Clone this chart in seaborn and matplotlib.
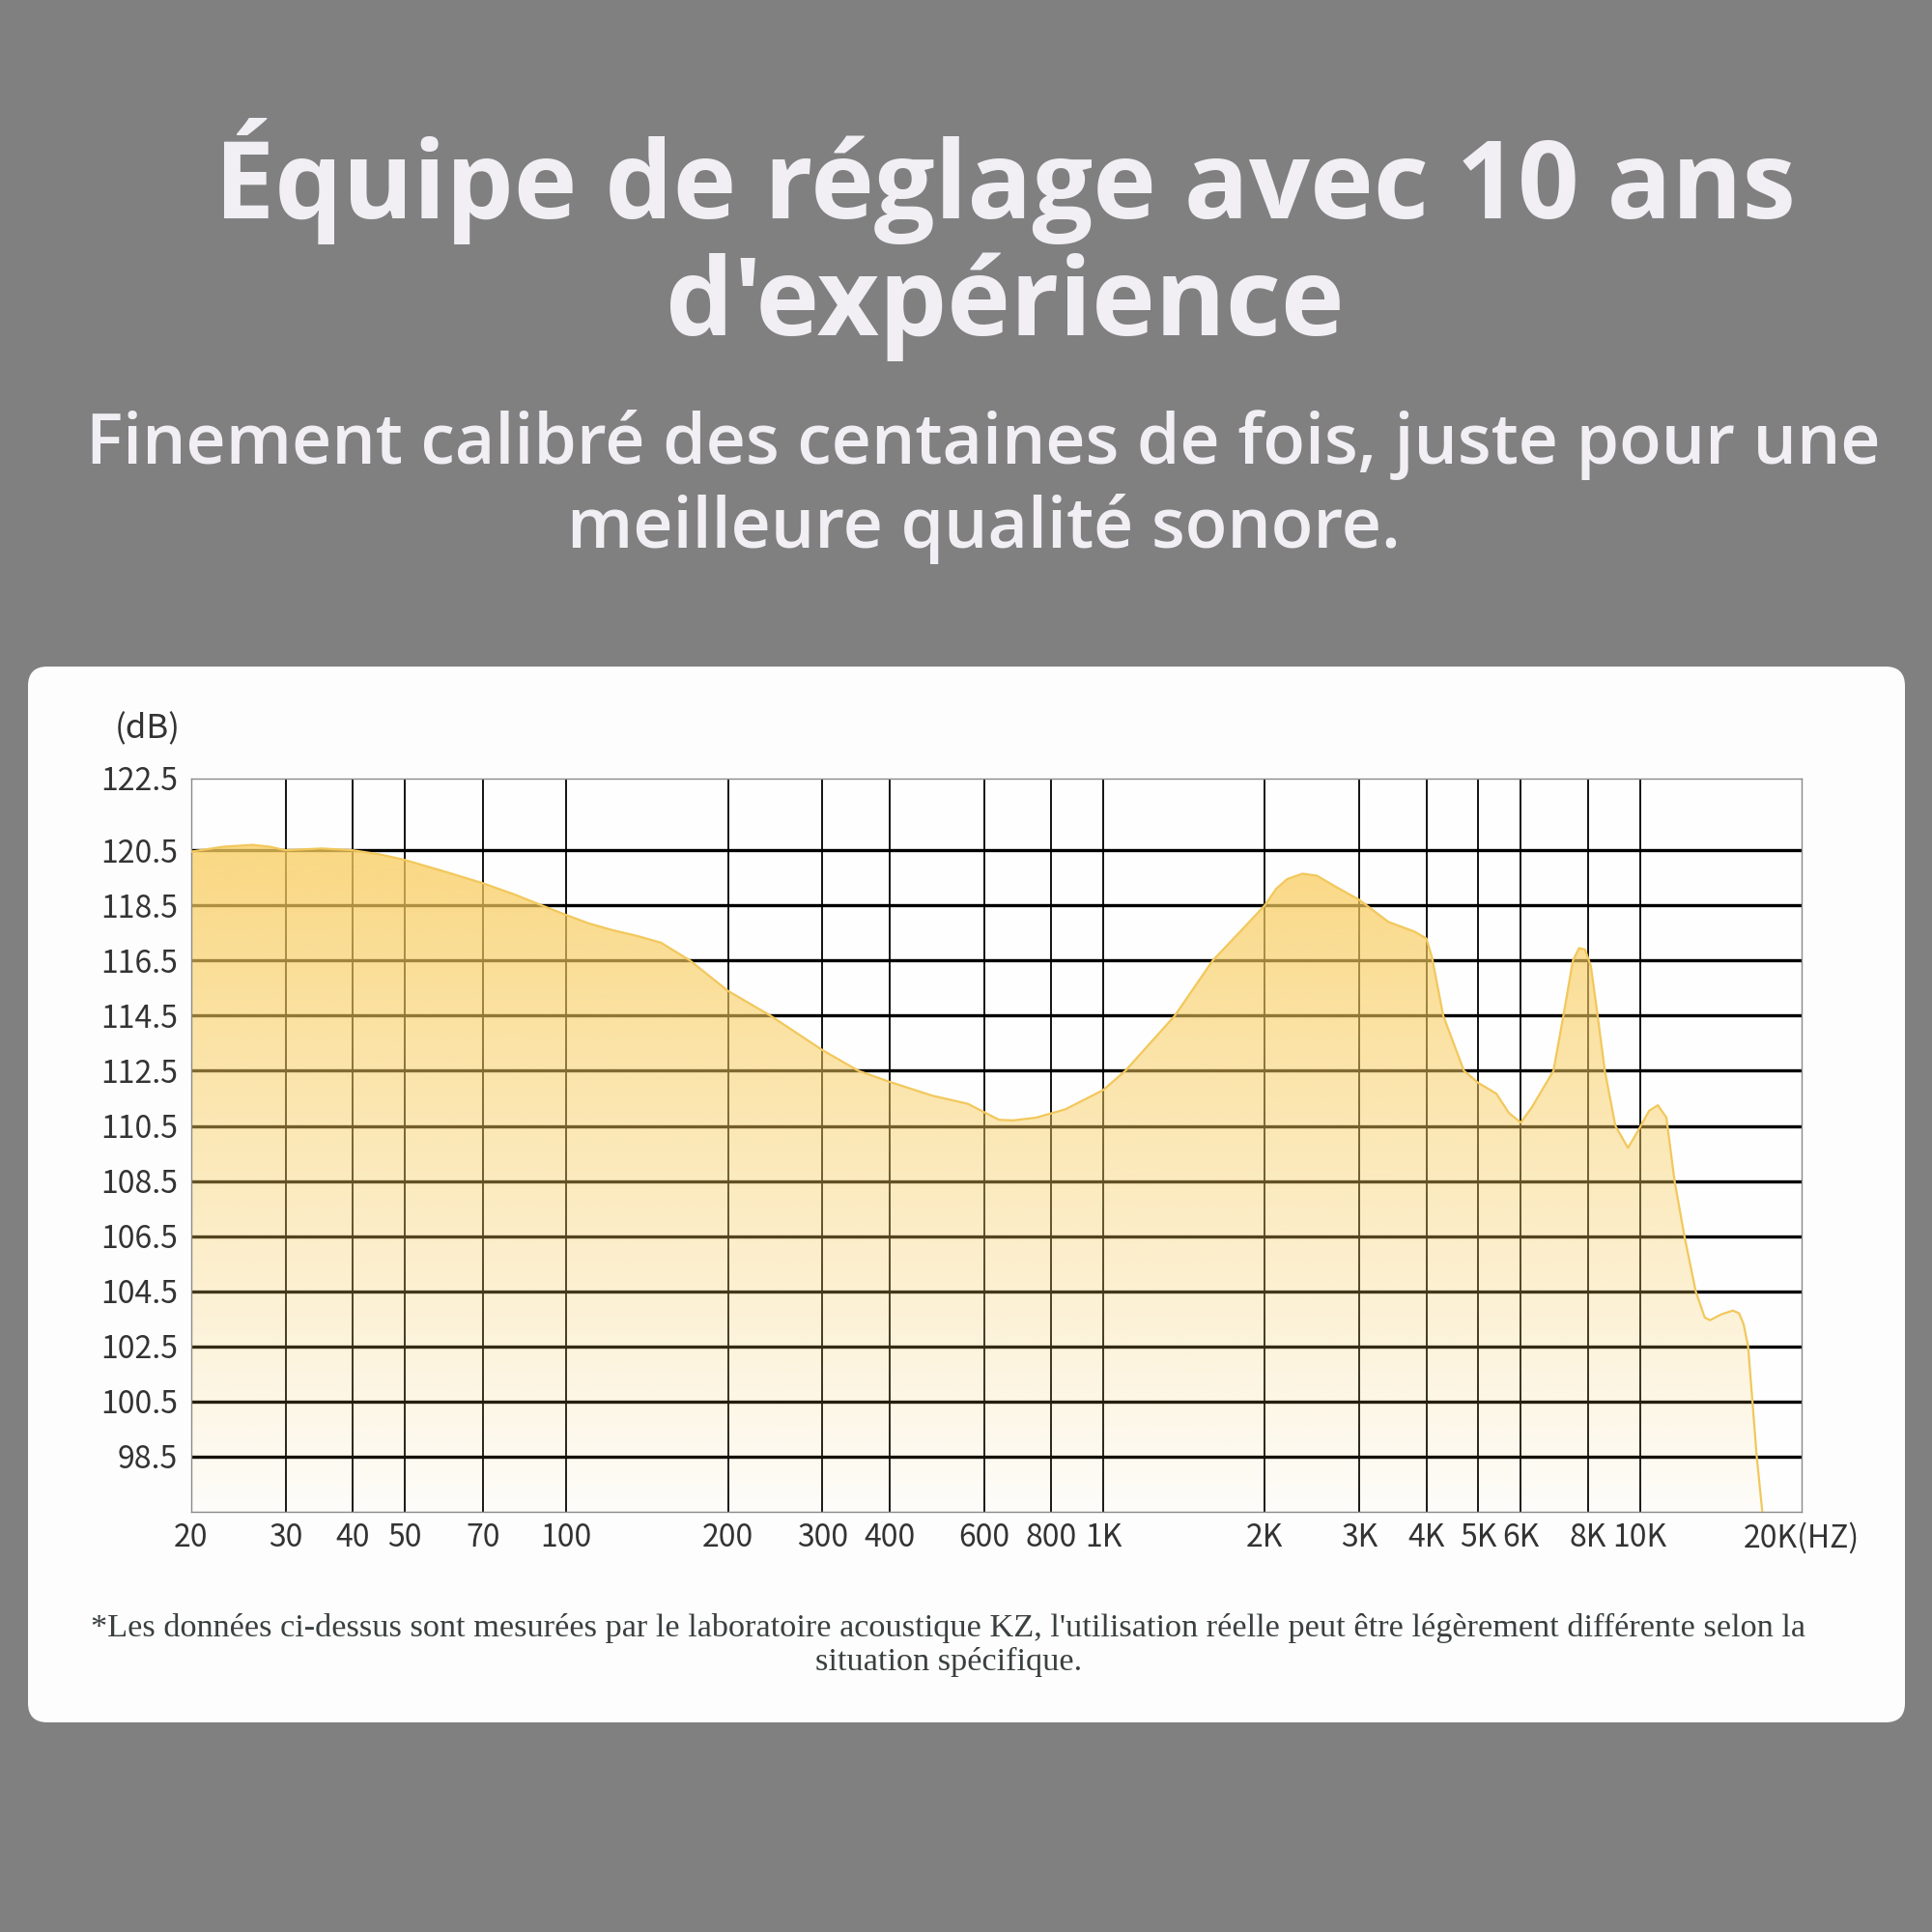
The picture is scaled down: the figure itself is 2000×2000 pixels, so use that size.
import numpy as np
import seaborn as sns
import matplotlib.pyplot as plt
from matplotlib.patches import FancyBboxPatch
from matplotlib.ticker import NullLocator

sns.set_theme(style="white")
plt.rcParams['font.family'] = ['Noto Sans CJK SC', 'DejaVu Sans']

# frequency response (Hz, dB)
freq_hz = [20, 23, 26, 28, 30, 35, 40, 45, 50, 60, 70, 80, 90, 100, 110, 122, 135, 150,
           170, 200, 240, 300, 350, 400, 480, 560, 600, 640, 680, 750, 850, 1000, 1100,
           1360, 1600, 1800, 2000, 2100, 2200, 2350, 2500, 2700, 3000, 3400, 3800, 4000,
           4100, 4300, 4700, 5000, 5400, 5700, 6000, 6300, 6900, 7200, 7500, 7700, 7900,
           8100, 8300, 8600, 9000, 9500, 9900, 10400, 10800, 11200, 11600, 12100, 12700,
           13200, 13500, 14200, 14900, 15300, 15600, 15900, 16200, 16500, 16900]
level_db = [120.45, 120.6, 120.65, 120.6, 120.5, 120.55, 120.5, 120.35, 120.15, 119.7,
            119.3, 118.9, 118.5, 118.15, 117.85, 117.6, 117.4, 117.15, 116.5, 115.4, 114.5,
            113.25, 112.5, 112.1, 111.6, 111.3, 111.0, 110.72, 110.7, 110.8, 111.1, 111.8,
            112.5, 114.5, 116.5, 117.55, 118.5, 119.1, 119.45, 119.65, 119.58, 119.2, 118.7,
            117.9, 117.55, 117.3, 116.6, 114.5, 112.5, 112.06, 111.67, 110.97, 110.62, 111.2,
            112.5, 114.5, 116.5, 116.95, 116.9, 116.3, 114.8, 112.5, 110.5, 109.7, 110.3,
            111.05, 111.25, 110.8, 108.5, 106.5, 104.5, 103.55, 103.45, 103.67, 103.8,
            103.7, 103.3, 102.5, 100.5, 98.5, 96.5]

x_ticks = [20, 30, 40, 50, 70, 100, 200, 300, 400, 600, 800, 1000,
           2000, 3000, 4000, 5000, 6000, 8000, 10000, 20000]
x_labels = ["20", "30", "40", "50", "70", "100", "200", "300", "400", "600", "800", "1K",
            "2K", "3K", "4K", "5K", "6K", "8K", "10K", "20K(HZ)"]
y_ticks = [98.5, 100.5, 102.5, 104.5, 106.5, 108.5, 110.5, 112.5, 114.5, 116.5,
           118.5, 120.5, 122.5]
y_labels = ["98.5", "100.5", "102.5", "104.5", "106.5", "108.5", "110.5", "112.5",
            "114.5", "116.5", "118.5", "120.5", "122.5"]

title_lines = "Équipe de réglage avec 10 ans\nd'expérience"
subtitle_lines = "Finement calibré des centaines de fois, juste pour une\nmeilleure qualité sonore."
footnote = ("*Les données ci-dessus sont mesurées par le laboratoire acoustique KZ, "
            "l'utilisation réelle peut être légèrement différente selon la\nsituation spécifique.")


# the top band (120.5 -> 122.5) is drawn a bit taller than the others
def fwd(v):
    v = np.asarray(v, dtype=float)
    return np.where(v <= 120.5, (v - 96.5) / 2, 12 + (v - 120.5) / 2 * 1.3)


def inv(p):
    p = np.asarray(p, dtype=float)
    return np.where(p <= 12, 96.5 + 2 * p, 120.5 + (p - 12) / 1.3 * 2)


fig = plt.figure(figsize=(20, 20), dpi=100, facecolor='#808080')

card = FancyBboxPatch((0.0145, 0.1085), 0.9715, 0.5465,
                      boxstyle="round,pad=0,rounding_size=0.01",
                      transform=fig.transFigure, facecolor='#fdfdfd',
                      edgecolor='none', zorder=-1)
fig.patches.append(card)

ax = fig.add_axes([0.0989, 0.2175, 0.8336, 0.3795])
ax.set_facecolor('#fefefe')
ax.set_xscale('log')
ax.set_yscale('function', functions=(fwd, inv))

# grid
for x in x_ticks[1:-1]:
    ax.axvline(x, color='black', lw=1.3, zorder=1)
for y in y_ticks[:-1]:
    ax.axhline(y, color='black', lw=2.4, zorder=1)

# gradient fill under the curve
poly = ax.fill_between(freq_hz, level_db, 96.5, facecolor='none', edgecolor='none', zorder=2)
grad = np.zeros((256, 1, 4))
grad[:, 0, 0] = 249 / 255
grad[:, 0, 1] = 205 / 255
grad[:, 0, 2] = 95 / 255
grad[:, 0, 3] = np.linspace(0.85, 0.03, 256)
im = ax.imshow(grad, extent=(0, 1, 0, 1), transform=ax.transAxes, aspect='auto',
               origin='upper', interpolation='bilinear', zorder=2)
im.set_clip_path(poly.get_paths()[0], ax.transData)

sns.lineplot(x=freq_hz, y=level_db, ax=ax, color='#f2c85c', lw=1.6, zorder=3)

ax.set_xlim(20, 20000)
ax.set_ylim(96.5, 122.5)

ax.set_xticks(x_ticks, x_labels)
ax.xaxis.set_minor_locator(NullLocator())
ax.set_yticks(y_ticks, y_labels)
ax.yaxis.set_minor_locator(NullLocator())
ax.tick_params(length=0, labelsize=23, colors='#333333')
ax.tick_params(axis='x', pad=8)
ax.tick_params(axis='y', pad=10)
for lbl in ax.get_xticklabels() + ax.get_yticklabels():
    lbl.set_fontweight('light')
for s in ax.spines.values():
    s.set_color('#8a8a8a')
    s.set_linewidth(1)
ax.set_xlabel('')
ax.set_ylabel('')

fig.text(0.0765, 0.6225, "(dB)", ha='center', va='center', fontsize=25,
         fontweight='light', color='#333333')

fig.text(0.52, 0.876, title_lines, ha='center', va='center', fontsize=80,
         fontweight='bold', family=['Open Sans', 'DejaVu Sans'], color='#f1eff4',
         linespacing=1.1)
fig.text(0.509, 0.748, subtitle_lines, ha='center', va='center', fontsize=51.5,
         fontweight='semibold', family=['Open Sans', 'DejaVu Sans'], color='#f1eff4',
         linespacing=1.25)
fig.text(0.491, 0.1485, footnote, ha='center', va='center', fontsize=24.7,
         family=['Liberation Serif', 'DejaVu Serif'], color='#3a3f3f',
         linespacing=1.2)

fig.savefig('out.png', dpi=100, facecolor=fig.get_facecolor())
